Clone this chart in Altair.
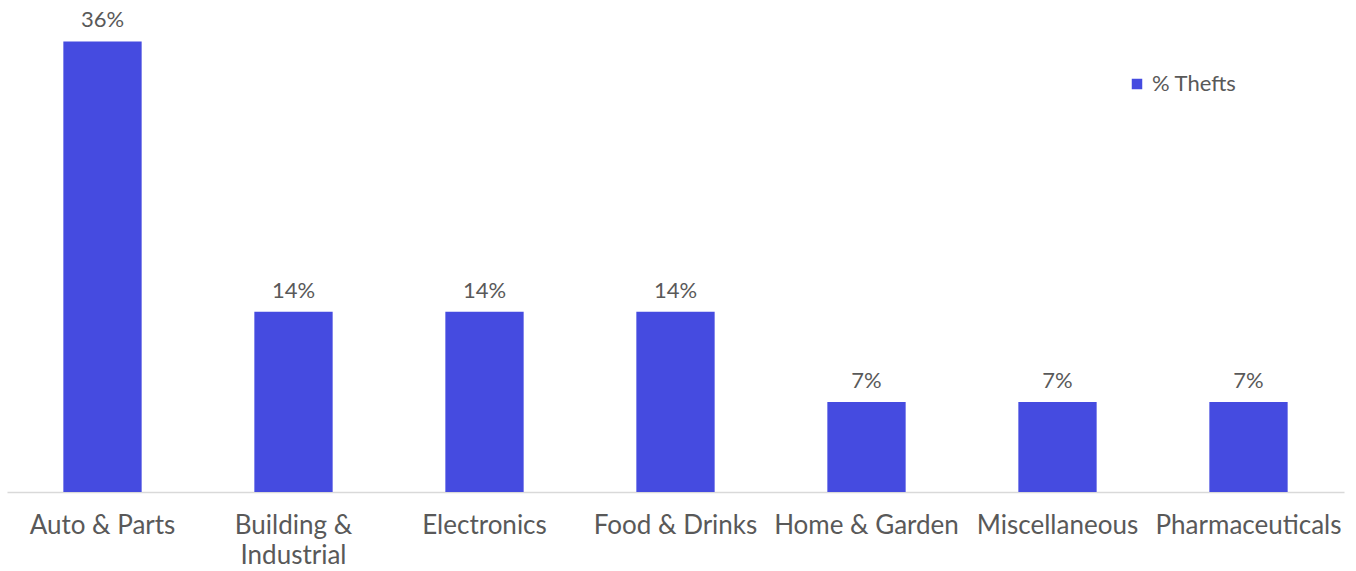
import altair as alt
import pandas as pd

categories = ["Auto & Parts", "Building & Industrial", "Electronics", "Food & Drinks",
              "Home & Garden", "Miscellaneous", "Pharmaceuticals"]
values = [5/14, 2/14, 2/14, 2/14, 1/14, 1/14, 1/14]
series = "% Thefts"

df = pd.DataFrame({"category": categories, "value": values, "series": series})

base = alt.Chart(df).encode(
    x=alt.X("category:N", sort=categories, title=None,
            scale=alt.Scale(paddingInner=0.59, paddingOuter=0.295),
            axis=alt.Axis(labelAngle=0, labelFont="Lato", labelFontSize=26,
                          labelColor="#595959", domainColor="#d9d9d9", domainWidth=1.5,
                          ticks=False, labelPadding=20, labelLimit=300,
                          labelLineHeight=30,
                          labelExpr="datum.value == 'Building & Industrial' ? ['Building &', 'Industrial'] : datum.value")),
    y=alt.Y("value:Q", title=None, scale=alt.Scale(domain=[0, 0.39], nice=False),
            axis=None),
)

bars = base.mark_bar(color="#454BE0").encode(
    color=alt.Color("series:N", scale=alt.Scale(range=["#454BE0"]),
                    legend=alt.Legend(title=None, orient="none", legendX=1119, legendY=73,
                                      symbolType="square", symbolSize=110,
                                      labelFont="Lato", labelFontSize=22,
                                      labelColor="#595959", labelOffset=4))
)

labels = base.mark_text(baseline="bottom", dy=-9, font="Lato", fontSize=22,
                        color="#595959").encode(
    text=alt.Text("value:Q", format=".0%")
)

chart = (bars + labels).properties(
    width=1337, height=492,
    padding={"left": 7, "top": 0, "right": 12, "bottom": 79},
    autosize=alt.AutoSizeParams(type="none"),
).configure(background="white", view=alt.ViewConfig(stroke=None, strokeWidth=0))

chart.save("out.html", embed_options={"renderer": "svg", "actions": False})
